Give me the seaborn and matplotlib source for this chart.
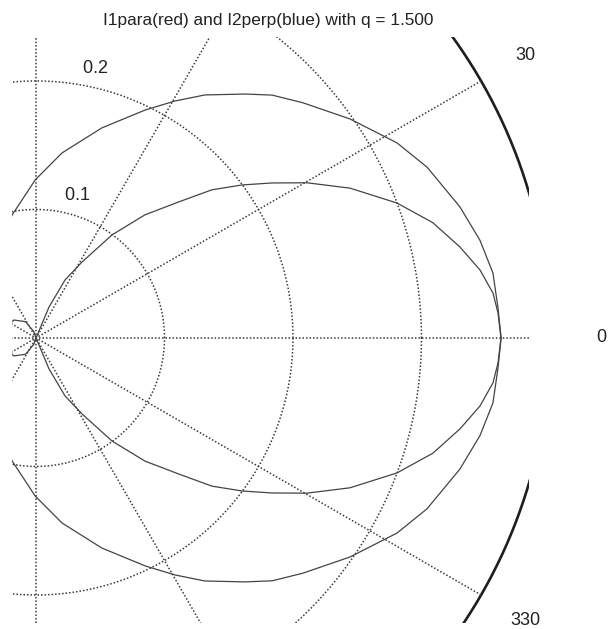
import numpy as np
import pandas as pd
import matplotlib
matplotlib.use("Agg")
import matplotlib.pyplot as plt
import seaborn as sns

# Upper half of each intensity pattern: scattering angle (deg) and radius
theta_para = [0, 3.8, 8.1, 12.4, 17.2, 23.6, 28.4, 34.9, 41.4, 45.8, 49.4, 55.2,
              59.6, 64.4, 72.6, 82.0, 90.3, 101.0, 106.0]
r_para = [0.362, 0.3603, 0.3592, 0.3538, 0.3453, 0.3321, 0.3193, 0.2979, 0.2768,
          0.2636, 0.250, 0.2303, 0.2138, 0.1967, 0.1713, 0.1454, 0.123, 0.0975, 0.087]

theta_perp = [0, 3.1, 5.6, 8.7, 12.1, 16.2, 20.5, 25.5, 29.8, 33.3, 36.6, 40.1,
              43.6, 48.5, 53.6, 58.8, 63.4, 67.2, 71.0, 100.0, 109.0, 122.8,
              141.0, 160.0, 180.0]
r_perp = [0.3619, 0.3601, 0.3574, 0.3496, 0.3375, 0.3216, 0.2999, 0.2708, 0.243,
          0.2197, 0.1997, 0.179, 0.1536, 0.1279, 0.0996, 0.0691, 0.0505, 0.0262,
          0.0, 0.0, 0.0052, 0.0151, 0.0222, 0.025, 0.026]

# Polar grid
ring_values = [0.1, 0.2, 0.3, 0.4]
spoke_angles = [30, 60, 90, 120, 150, 180]
angle_labels = list(range(0, 360, 30))
title_text = "I1para(red) and I2perp(blue) with q = 1.500"


def full_pattern(theta, r, name):
    """Mirror the upper half about the 0-180 axis and convert to x/y."""
    th = [-t for t in theta[:0:-1]] + list(theta)
    rr = list(r[:0:-1]) + list(r)
    th = np.deg2rad(np.array(th))
    rr = np.array(rr)
    return pd.DataFrame({"x": rr * np.cos(th), "y": rr * np.sin(th), "curve": name})


df = pd.concat([full_pattern(theta_para, r_para, "I1para"),
                full_pattern(theta_perp, r_perp, "I2perp")], ignore_index=True)

sns.set_style("white")
plt.rcParams["font.family"] = ["Liberation Sans", "DejaVu Sans"]

W, H = 615, 629
fig = plt.figure(figsize=(W / 100, H / 100), dpi=100)
ax = fig.add_axes([12 / W, 6 / H, 517 / W, 586 / H])
x0, x1 = -0.0187, 0.3837
y0, y1 = -0.2218, 0.2342
ax.set_xlim(x0, x1)
ax.set_ylim(y0, y1)
ax.axis("off")

# data extent of the whole figure, used to keep labels on the canvas
ppu = 517 / (x1 - x0)
fx0, fx1 = x0 - 12 / ppu, x1 + (W - 529) / ppu
fy0, fy1 = y0 - 6 / ppu, y1 + 37 / ppu

grid_col = "#3a3a3a"
dot = (0, (1, 1.3))
rmax = ring_values[-1]
t = np.linspace(0, 2 * np.pi, 1441)

# range rings: dotted inside, solid outer boundary
for rv in ring_values[:-1]:
    ax.plot(rv * np.cos(t), rv * np.sin(t), color=grid_col, lw=1.1, ls=dot, zorder=1)
ax.plot(rmax * np.cos(t), rmax * np.sin(t), color="#1e1e1e", lw=1.9, zorder=1)

# spokes as full diameters
for a in spoke_angles:
    c, s = np.cos(np.deg2rad(a)), np.sin(np.deg2rad(a))
    ax.plot([-rmax * c, rmax * c], [-rmax * s, rmax * s], color=grid_col,
            lw=1.1, ls=dot, zorder=1)


def on_canvas(x, y):
    return fx0 < x < fx1 and fy0 < y < fy1


# ring labels along the 82 degree direction
c82, s82 = np.cos(np.deg2rad(82)), np.sin(np.deg2rad(82))
for rv in ring_values:
    px, py = (rv + 0.005) * c82, (rv + 0.005) * s82
    if on_canvas(px, py + 0.012):
        ax.text(px, py, "  " + f"{rv:g}", ha="left", va="bottom",
                fontsize=13, color="#222222")

# angle labels just outside the outer ring
for a in angle_labels:
    rr = 1.1 * rmax
    px, py = rr * np.cos(np.deg2rad(a)), rr * np.sin(np.deg2rad(a))
    if on_canvas(px, py):
        ax.text(px, py, str(a), ha="center", va="center", fontsize=13,
                color="#222222")

sns.lineplot(data=df, x="x", y="y", hue="curve", sort=False, estimator=None,
             palette={"I1para": "#444444", "I2perp": "#444444"},
             legend=False, lw=0.9, ax=ax, zorder=3)

fig.text(268 / W, 1 - 20 / H, title_text, ha="center", va="center",
         fontsize=12.4, color="#222222")

fig.savefig("out.png", dpi=100, facecolor="white")
